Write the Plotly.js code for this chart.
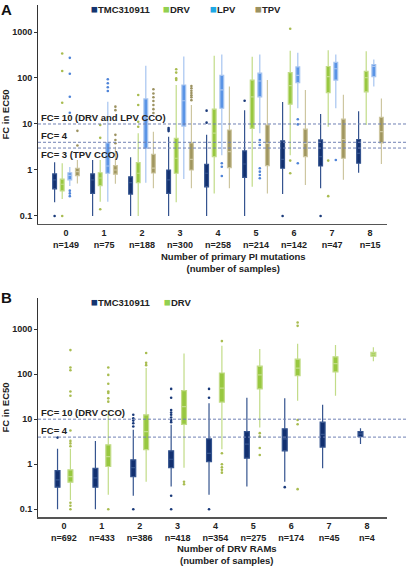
<!DOCTYPE html>
<html><head><meta charset="utf-8">
<script src="https://cdn.plot.ly/plotly-3.0.1.min.js"></script>
<style>html,body{margin:0;padding:0;background:#fff}#chart{width:406px;height:566px}</style>
</head><body><div id="chart"></div>
<script>
// ---------- categories / tick labels ----------
const groups = [0, 1, 2, 3, 4, 5, 6, 7, 8];
const samplesA = [149, 75, 188, 300, 258, 214, 142, 47, 15];
const samplesB = [692, 433, 386, 418, 354, 275, 174, 45, 4];
const seriesA = ['TMC310911', 'DRV', 'LPV', 'TPV'];
const seriesB = ['TMC310911', 'DRV'];
const yTickVals = [0.1, 1, 10, 100, 1000];
const yTickText = ['0.1', '1', '10', '100', '1000'];
const xTitleA = 'Number of primary PI mutations<br>(number of samples)';
const xTitleB = 'Number of DRV RAMs<br>(number of samples)';

// ---------- Panel A: primary PI mutations ----------
const tmcA_lo  = [0.2, 0.1, 0.1, 0.1, 0.1, 0.1, 0.3, 0.4, 0.87];
const tmcA_q1  = [0.39, 0.31, 0.30, 0.31, 0.43, 0.69, 1.09, 1.22, 1.4];
const tmcA_med = [0.61, 0.61, 0.53, 0.61, 0.85, 1.35, 1.7, 1.95, 2.3];
const tmcA_q3  = [0.82, 0.82, 0.71, 1.0, 1.33, 2.6, 4.3, 4.5, 4.6];
const tmcA_hi  = [1.47, 1.65, 1.89, 5.3, 5.8, 20, 30, 16.5, 19];
const tmcA_outG = [0, 3, 3, 3, 4, 4, 5, 6, 7];
const tmcA_outV = [0.1, 7.0, 7.6, 8.2, 10.7, 19.5, 32, 0.1, 0.1];

const drvA_lo  = [0.234, 0.205, 0.1, 0.2, 0.31, 0.43, 2.1, 8.7, 9.5];
const drvA_q1  = [0.35, 0.456, 0.53, 0.85, 1.95, 8, 27, 48, 50];
const drvA_med = [0.49, 0.67, 0.85, 1.8, 6.3, 39, 68, 107, 102];
const drvA_q3  = [0.63, 0.87, 1.44, 4.9, 21, 90, 131, 178, 139];
const drvA_hi  = [1.4, 1.65, 6.3, 70, 305, 289, 391, 400, 383];
const drvA_outG = [0, 0, 0, 0, 1, 1, 1, 2, 2, 2, 2, 3, 3, 3, 3, 6, 6, 6, 7, 7];
const drvA_outV = [0.1, 29, 142, 342, 0.14, 5.0, 9.5, 8.7, 11.2, 25.9, 42.7, 90.6, 98, 131, 155, 0.85, 1.6, 1175, 0.27, 1.6];

const lpvA_lo  = [0.45, 0.205, 0.53, 0.64, 2.1, 6.3, 22, 22, 65];
const lpvA_q1  = [0.61, 0.85, 2.95, 9.0, 22, 39, 79, 90, 107];
const lpvA_med = [0.76, 1.22, 13.5, 32, 55, 86, 114, 159, 178];
const lpvA_q3  = [0.87, 3.9, 35, 70.5, 114, 127, 174, 218, 195];
const lpvA_hi  = [1.16, 30.5, 184, 295, 325, 325, 353, 325, 252];
const lpvA_outG = [0, 0, 0, 0, 0, 0, 0, 1, 1, 1, 1, 4, 4, 4, 5, 5, 5, 5, 5, 5, 6, 6, 6, 7];
const lpvA_outV = [0.27, 0.31, 0.355, 17.6, 39, 124, 274, 52, 63, 77, 94, 0.74, 1.18, 1.4, 0.66, 0.78, 0.92, 1.09, 3.5, 4.5, 1.4, 9.8, 12.7, 1.65];

const tpvA_lo  = [0.51, 0.5, 0.4, 0.4, 0.4, 0.31, 0.47, 0.61, 1.35];
const tpvA_q1  = [0.75, 0.81, 0.86, 1.0, 1.12, 1.24, 1.95, 1.8, 3.9];
const tpvA_med = [0.92, 1.0, 1.1, 1.7, 2.5, 3.8, 3.8, 4.6, 6.8];
const tpvA_q3  = [1.09, 1.24, 2.2, 3.9, 7.4, 9.5, 7.7, 12.8, 14];
const tpvA_hi  = [1.65, 3.2, 6.8, 26, 65, 90, 55, 43, 36];
const tpvA_outG = [0, 0, 1, 1, 1, 1, 1, 2, 2, 2, 2, 2, 2, 2, 3, 3, 3, 3, 3, 3, 3];
const tpvA_outV = [3.4, 7.1, 3.8, 4.5, 5.8, 20, 23.8, 17.4, 21, 25.9, 31.6, 38, 46, 56.8, 33, 38, 42, 47, 53, 60, 67];

// ---------- Panel B: DRV RAMs ----------
const tmcB_lo  = [0.1, 0.1, 0.2, 0.32, 0.21, 0.32, 0.41, 0.81, 2.8];
const tmcB_q1  = [0.31, 0.31, 0.53, 0.84, 1.14, 1.36, 1.98, 2.4, 4.1];
const tmcB_med = [0.45, 0.5, 0.84, 1.29, 1.75, 2.8, 3.65, 4.6, 4.7];
const tmcB_q3  = [0.72, 0.81, 1.25, 1.98, 3.65, 5.3, 6.1, 8.6, 5.3];
const tmcB_hi  = [2.2, 3.3, 5.8, 7.5, 22.7, 30, 29, 20.8, 6.3];
const tmcB_outG = [0, 2, 2, 2, 2, 2, 2, 3, 3, 3, 3, 3, 3, 3, 3, 3, 3, 4, 4, 4, 6];
const tmcB_outV = [3.9, 0.1, 6.9, 8.1, 9.3, 10.5, 12.5, 0.1, 0.2, 8.6, 9.6, 10.9, 12.5, 14, 16, 30, 47, 0.1, 30, 47, 0.31];

const drvB_lo  = [0.16, 0.21, 0.41, 0.84, 2.15, 6.5, 25.5, 33, 192];
const drvB_q1  = [0.4, 0.89, 2.1, 7.7, 24, 47, 92, 112, 250];
const drvB_med = [0.53, 1.48, 5.3, 19, 49, 96, 136, 171, 277];
const drvB_q3  = [0.75, 2.7, 12.5, 43, 106, 150, 215, 242, 303];
const drvB_hi  = [2.2, 16, 136, 288, 427, 360, 470, 443, 395];
const drvB_outG = [0, 0, 0, 0, 0, 0, 0, 0, 0, 0, 0, 0, 1, 1, 1, 1, 1, 1, 1, 1, 2, 2, 2, 3, 3, 4, 4, 4, 4, 4, 4, 5, 5, 5, 5, 6, 6, 6, 6, 6];
const drvB_outV = [0.1, 0.12, 0.14, 2.5, 2.9, 3.3, 5.6, 33, 41, 122, 140, 341, 0.1, 24.5, 29, 38, 41, 61, 96, 140, 158, 178, 295, 0.36, 0.41, 0.65, 0.75, 0.86, 1.0, 1.75, 540, 1.6, 2.3, 4.1, 4.9, 0.28, 7.7, 9.6, 1180, 1400];

// ---------- styles ----------
const FONT = 'Liberation Sans, Arial, sans-serif';
const styles = {
  TMC: {fill: '#123070', line: '#35548f', dot: '#1a3a7a', legend: '#14346f'},
  DRV: {fill: '#98c840', line: '#c2dc88', dot: '#a8bc50', legend: '#92d050'},
  LPV: {fill: '#5a94e6', line: '#a6c4f0', dot: '#4f84d8', legend: '#1ea8e4'},
  TPV: {fill: '#a0965e', line: '#cdc6a0', dot: '#9c9260', legend: '#9c9160'}
};

function boxTrace(key, off, w, lo, q1, med, q3, hi, xa, ya) {
  const s = styles[key];
  return {
    type: 'box', x: groups.map(g => g + off),
    lowerfence: lo, q1: q1, median: med, q3: q3, upperfence: hi,
    width: w, whiskerwidth: 0, boxpoints: false,
    fillcolor: s.fill, line: {color: s.line, width: 1.2},
    xaxis: xa, yaxis: ya, showlegend: false, hoverinfo: 'y'
  };
}
function outTrace(key, off, og, ov, xa, ya) {
  const s = styles[key];
  return {
    type: 'scatter', mode: 'markers', x: og.map(g => g + off), y: ov,
    marker: {size: 2.6, color: s.dot}, xaxis: xa, yaxis: ya,
    showlegend: false, hoverinfo: 'y'
  };
}

const wA = 0.1, wB = 0.13;
const traces = [
  boxTrace('TMC', -0.3, wA, tmcA_lo, tmcA_q1, tmcA_med, tmcA_q3, tmcA_hi, 'x', 'y'),
  boxTrace('DRV', -0.1, wA, drvA_lo, drvA_q1, drvA_med, drvA_q3, drvA_hi, 'x', 'y'),
  boxTrace('LPV',  0.1, wA, lpvA_lo, lpvA_q1, lpvA_med, lpvA_q3, lpvA_hi, 'x', 'y'),
  boxTrace('TPV',  0.3, wA, tpvA_lo, tpvA_q1, tpvA_med, tpvA_q3, tpvA_hi, 'x', 'y'),
  outTrace('TMC', -0.3, tmcA_outG, tmcA_outV, 'x', 'y'),
  outTrace('DRV', -0.1, drvA_outG, drvA_outV, 'x', 'y'),
  outTrace('LPV',  0.1, lpvA_outG, lpvA_outV, 'x', 'y'),
  outTrace('TPV',  0.3, tpvA_outG, tpvA_outV, 'x', 'y'),
  boxTrace('TMC', -0.17, wB, tmcB_lo, tmcB_q1, tmcB_med, tmcB_q3, tmcB_hi, 'x2', 'y2'),
  boxTrace('DRV',  0.17, wB, drvB_lo, drvB_q1, drvB_med, drvB_q3, drvB_hi, 'x2', 'y2'),
  outTrace('TMC', -0.17, tmcB_outG, tmcB_outV, 'x2', 'y2'),
  outTrace('DRV',  0.17, drvB_outG, drvB_outV, 'x2', 'y2')
];

const boldFont = (size) => ({family: FONT, size: size, color: '#222', weight: 'bold'});

function xAxis(anchor, range, samples) {
  return {
    anchor: anchor, domain: [0, 1], range: range,
    tickmode: 'array', tickvals: groups,
    ticktext: groups.map((g, i) => g + '<br>n=' + samples[i]),
    tickfont: boldFont(9), ticks: '', showgrid: false, zeroline: false,
    showline: true, linecolor: '#555', linewidth: 1.5
  };
}
function yAxis(anchor, domain, range) {
  return {
    anchor: anchor, domain: domain, type: 'log', range: range,
    tickmode: 'array', tickvals: yTickVals, ticktext: yTickText,
    tickfont: boldFont(9), ticks: 'outside', ticklen: 3, tickcolor: '#333',
    showgrid: false, zeroline: false, showline: true, linecolor: '#333', linewidth: 1,
    title: {text: 'FC in EC50', font: boldFont(9.5), standoff: 2}
  };
}

const refLineColor = '#7080b4';
function refLine(yref, xref, v) {
  return {type: 'line', xref: xref, yref: yref, x0: 0, x1: 1.055, y0: v, y1: v,
          line: {color: refLineColor, width: 1, dash: '3px,2px'}};
}
function refLabel(xref, yref, v, text, anchor) {
  return {xref: xref, yref: yref, x: 0.006, y: Math.log10(v), xanchor: 'left', yanchor: anchor,
          text: text, showarrow: false, font: boldFont(9.5), borderpad: 0};
}
function legendItem(x, y, key, name) {
  return {xref: 'paper', yref: 'paper', x: x, y: y, xanchor: 'left', yanchor: 'middle',
          text: '<span style="color:' + styles[key].legend + ';font-size:11.5px">■</span>' + name,
          showarrow: false, font: boldFont(9.5), borderpad: 0};
}
function xTitle(x, y, text) {
  return {xref: 'paper', yref: 'paper', x: x, y: y, xanchor: 'center', yanchor: 'middle',
          text: text, align: 'center', showarrow: false, font: boldFont(9.5), borderpad: 0};
}

const layout = {
  width: 406, height: 566,
  margin: {l: 38, r: 19, t: 5, b: 49},
  paper_bgcolor: '#fff', plot_bgcolor: '#fff', showlegend: false,
  xaxis: xAxis('y', [-0.737, 8.447], samplesA),
  yaxis: yAxis('x', [0.5723, 1], [-1.174, 3.587]),
  xaxis2: xAxis('y2', [-0.686, 8.53], samplesB),
  yaxis2: yAxis('x2', [0, 0.4277], [-1.171, 3.689]),
  shapes: [
    refLine('y', 'x domain', 10), refLine('y', 'x domain', 4), refLine('y', 'x domain', 3),
    refLine('y2', 'x2 domain', 10), refLine('y2', 'x2 domain', 4)
  ],
  annotations: [
    refLabel('x domain', 'y', 10, 'FC= 10 (DRV and LPV CCO)', 'bottom'),
    refLabel('x domain', 'y', 4, 'FC= 4', 'bottom'),
    refLabel('x domain', 'y', 3, 'FC= 3 (TPV CCO)', 'top'),
    refLabel('x2 domain', 'y2', 10, 'FC= 10 (DRV CCO)', 'bottom'),
    refLabel('x2 domain', 'y2', 4, 'FC= 4', 'bottom'),
    legendItem(0.148, 0.9916, 'TMC', seriesA[0]),
    legendItem(0.355, 0.9916, 'DRV', seriesA[1]),
    legendItem(0.490, 0.9916, 'LPV', seriesA[2]),
    legendItem(0.619, 0.9916, 'TPV', seriesA[3]),
    legendItem(0.148, 0.4193, 'TMC', seriesB[0]),
    legendItem(0.358, 0.4193, 'DRV', seriesB[1]),
    xTitle(0.559, 0.4977, xTitleA),
    xTitle(0.542, -0.0727, xTitleB),
    {xref: 'paper', yref: 'paper', x: -0.109, y: 1.0098, xanchor: 'left', yanchor: 'top', text: 'A',
     showarrow: false, font: {family: FONT, size: 15, color: '#111', weight: 'bold'}, borderpad: 0},
    {xref: 'paper', yref: 'paper', x: -0.109, y: 0.447, xanchor: 'left', yanchor: 'top', text: 'B',
     showarrow: false, font: {family: FONT, size: 15, color: '#111', weight: 'bold'}, borderpad: 0}
  ]
};

Plotly.newPlot('chart', traces, layout, {staticPlot: true, displayModeBar: false});
</script>
</body></html>
